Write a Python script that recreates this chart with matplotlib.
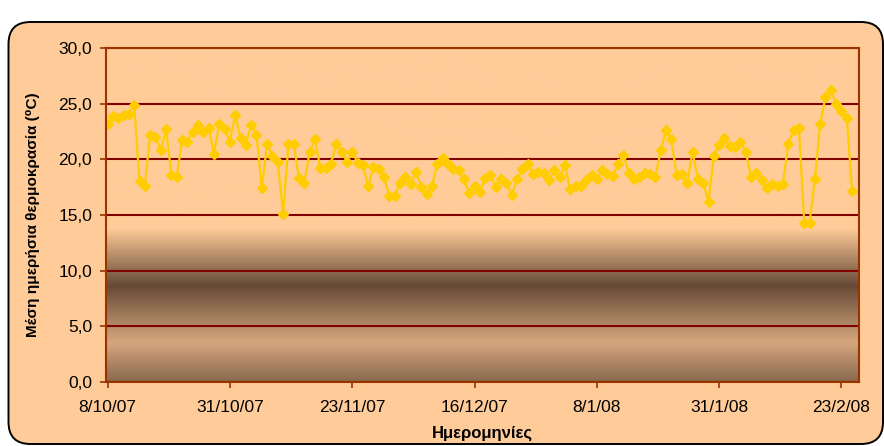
import matplotlib
matplotlib.use("Agg")
import matplotlib.pyplot as plt
import matplotlib.dates as mdates
from matplotlib.colors import LinearSegmentedColormap
from matplotlib.patches import FancyBboxPatch
import numpy as np
import pandas as pd

plt.rcParams['font.family'] = ['Liberation Sans', 'DejaVu Sans']

# mean daily temperature, one value per day starting at 8/10/07
start_date = "2007-10-08"
temps = [
    23.2, 23.85, 23.7, 24.0, 24.1, 24.9, 18.05, 17.6, 22.2, 22.0,
    20.8, 22.7, 18.6, 18.4, 21.7, 21.6, 22.5, 23.1, 22.5, 22.8,
    20.5, 23.2, 22.7, 21.6, 24.0, 21.9, 21.3, 23.1, 22.2, 17.4,
    21.4, 20.3, 19.8, 15.1, 21.35, 21.4, 18.3, 17.9, 20.7, 21.8,
    19.2, 19.2, 19.6, 21.35, 20.7, 19.8, 20.7, 19.7, 19.5, 17.6,
    19.3, 19.1, 18.4, 16.7, 16.7, 17.9, 18.4, 17.8, 18.9, 17.5,
    16.85, 17.6, 19.6, 20.1, 19.6, 19.1, 19.0, 18.2, 17.0, 17.6,
    17.1, 18.3, 18.6, 17.5, 18.2, 17.9, 16.8, 18.2, 19.1, 19.6,
    18.7, 18.9, 18.8, 18.1, 19.0, 18.4, 19.5, 17.3, 17.6, 17.6,
    18.1, 18.6, 18.2, 19.0, 18.7, 18.5, 19.6, 20.4, 18.8, 18.2,
    18.4, 18.8, 18.7, 18.4, 20.8, 22.6, 21.8, 18.6, 18.7, 17.9,
    20.7, 18.2, 17.9, 16.2, 20.3, 21.3, 21.9, 21.2, 21.1, 21.6,
    20.7, 18.4, 18.8, 18.1, 17.4, 17.8, 17.6, 17.8, 21.4, 22.6,
    22.8, 14.3, 14.3, 18.2, 23.2, 25.6, 26.2, 25.0, 24.35, 23.7,
    17.2,
]
tick_dates = ["2007-10-08", "2007-10-31", "2007-11-23", "2007-12-16",
              "2008-01-08", "2008-01-31", "2008-02-23"]
y_ticks = [0, 5, 10, 15, 20, 25, 30]

dates = pd.date_range(start_date, periods=len(temps), freq="D")

fig = plt.figure(figsize=(8.84, 4.46), dpi=100)
fig.patch.set_facecolor("white")

# rounded chart-area frame, placed in inches
frame = FancyBboxPatch((0.085, 0.02), 8.745, 4.22,
                       boxstyle="round,pad=0,rounding_size=0.22",
                       transform=fig.dpi_scale_trans, facecolor="#FFCC99",
                       edgecolor="black", linewidth=1.4, zorder=-10)
fig.patches.append(frame)

ax = fig.add_axes([106 / 884, 1 - 382 / 446, 753 / 884, 334 / 446])
ax.set_facecolor("#FFCC99")

# banded background gradient of the plot area (value -> colour)
stops = [(0.0, "#8A6A50"), (3.5 / 30, "#D6A77E"), (8.6 / 30, "#664A36"),
         (13.8 / 30, "#FFCC99"), (1.0, "#FFCC99")]
cmap = LinearSegmentedColormap.from_list("bg", stops)
grad = np.linspace(0, 1, 400).reshape(-1, 1)
ax.imshow(grad, extent=[0, 1, 0, 1], transform=ax.transAxes, origin="lower",
          aspect="auto", cmap=cmap, zorder=0)

ax.plot(dates, temps, color="#FFCC00", lw=1.6, marker="D", markersize=5.5,
        markeredgecolor="#FFCC00", zorder=3)

x0 = mdates.date2num(pd.Timestamp(start_date))
ax.set_xlim(x0 - 0.3, x0 + 141.3)
ax.set_ylim(0, 30)
ax.set_yticks(y_ticks)
ax.set_yticklabels([f"{v:.1f}".replace(".", ",") for v in y_ticks])
tick_ts = pd.to_datetime(tick_dates)
ax.set_xticks(tick_ts)
ax.set_xticklabels([f"{d.day}/{d.month}/{d:%y}" for d in tick_ts])

ax.grid(axis="y", color="#800000", lw=1.5, zorder=1)
ax.set_axisbelow(False)
for s in ax.spines.values():
    s.set_color("#993300")
    s.set_linewidth(1.5)
    s.set_zorder(4)
ax.tick_params(axis="both", colors="#993300", length=4, width=1.2,
               labelcolor="black", labelsize=12.5)
ax.tick_params(axis="x", pad=9)
ax.tick_params(axis="y", pad=6)

ax.set_ylabel("Μέση ημερήσια θερμοκρασία (⁰C)", fontsize=11,
              fontweight="bold", labelpad=13)
ax.set_xlabel("Ημερομηνίες", fontsize=12, fontweight="bold", labelpad=8)

fig.savefig("out.png", dpi=100)
